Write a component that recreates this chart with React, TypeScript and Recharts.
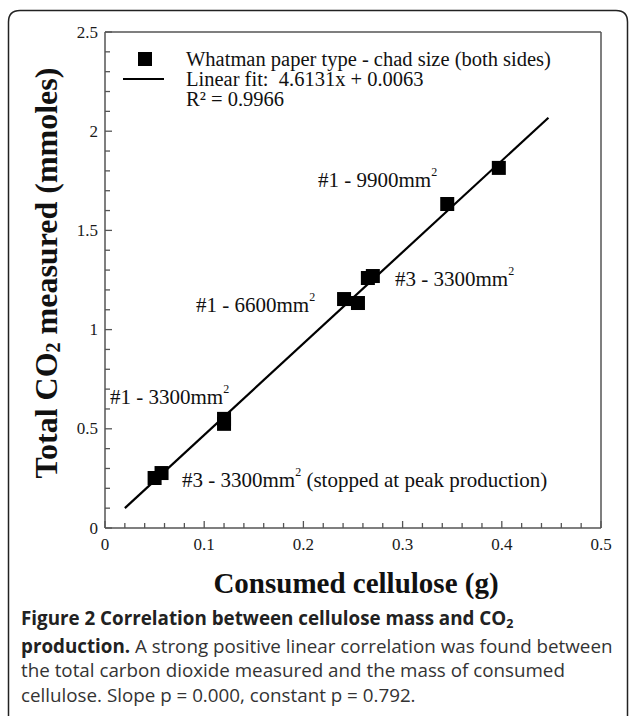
import React from "react";
import { ScatterChart, Scatter, XAxis, YAxis, ReferenceLine } from "recharts";

// measured points: consumed cellulose (g) vs total CO2 (mmoles)
const cellulose = [0.05, 0.057, 0.12, 0.12, 0.241, 0.255, 0.265, 0.27, 0.345, 0.397];
const co2 = [0.252, 0.277, 0.55, 0.525, 1.154, 1.134, 1.26, 1.27, 1.633, 1.815];

// linear fit end points
const fitX = [0.02, 0.447];
const fitY = [0.1, 2.068];

const xTicks = [
  0, 0.02, 0.04, 0.06, 0.08, 0.1, 0.12, 0.14, 0.16, 0.18, 0.2, 0.22, 0.24, 0.26,
  0.28, 0.3, 0.32, 0.34, 0.36, 0.38, 0.4, 0.42, 0.44, 0.46, 0.48, 0.5,
];
const yTicks = [
  0, 0.1, 0.2, 0.3, 0.4, 0.5, 0.6, 0.7, 0.8, 0.9, 1, 1.1, 1.2, 1.3, 1.4, 1.5,
  1.6, 1.7, 1.8, 1.9, 2, 2.1, 2.2, 2.3, 2.4, 2.5,
];
const xMajor = [0, 0.1, 0.2, 0.3, 0.4, 0.5];
const yMajor = [0, 0.5, 1, 1.5, 2, 2.5];

const legendLabels = [
  "Whatman paper type - chad size (both sides)",
  "Linear fit:  4.6131x + 0.0063",
  "R\u00b2 = 0.9966",
];

// [prefix, superscript, suffix]
const annotations = [
  ["#1 - 9900mm", "2", ""],
  ["#3 - 3300mm", "2", ""],
  ["#1 - 6600mm", "2", ""],
  ["#1 - 3300mm", "2", ""],
  ["#3 - 3300mm", "2", " (stopped at peak production)"],
];

const points = cellulose.map((x, i) => ({ x, y: co2[i] }));

const SERIF = "'Liberation Serif', 'Times New Roman', serif";
const AXIS = "#555";

function EdgeTick(props: any) {
  const { x, y, payload, side } = props;
  const v = payload.value;
  const horiz = side === "bottom" || side === "top";
  const major = horiz ? xMajor.includes(v) : yMajor.includes(v);
  const len = major ? 7 : 5;
  let x2 = x;
  let y2 = y;
  if (side === "bottom") y2 = y - len;
  if (side === "top") y2 = y + len;
  if (side === "left") x2 = x + len;
  if (side === "right") x2 = x - len;
  return (
    <g>
      <line x1={x} y1={y} x2={x2} y2={y2} stroke={AXIS} strokeWidth={1.3} />
      {major && side === "bottom" && (
        <text x={x} y={y + 16} textAnchor="middle" dominantBaseline="central"
          fontFamily={SERIF} fontSize={17} fill="#1a1a1a">{v}</text>
      )}
      {major && side === "left" && (
        <text x={x - 7} y={y} textAnchor="end" dominantBaseline="central"
          fontFamily={SERIF} fontSize={17} fill="#1a1a1a">{v}</text>
      )}
    </g>
  );
}

const Square = (p: any) => (
  <rect x={p.cx - 7} y={p.cy - 7} width={14} height={14} fill="#000" />
);

export default function App() {
  const annPos = [
    [318, 180],
    [395, 279],
    [196, 305],
    [110, 397],
    [182, 480],
  ];
  return (
    <div style={{ position: "absolute", left: 0, top: 0, width: 629, height: 716, background: "#fff" }}>
      <ScatterChart width={629} height={716} margin={{ top: 31, right: 27, bottom: 187, left: 104 }}>
        <XAxis type="number" dataKey="x" domain={[0, 0.5]} ticks={xTicks} interval={0}
          height={1} tickSize={0} tickMargin={0} axisLine={{ stroke: AXIS, strokeWidth: 1.5 }}
          tickLine={false} tick={(p: any) => <EdgeTick {...p} side="bottom" />} />
        <XAxis xAxisId="top" orientation="top" type="number" domain={[0, 0.5]} ticks={xTicks}
          interval={0} height={1} tickSize={0} tickMargin={0}
          axisLine={{ stroke: AXIS, strokeWidth: 1.5 }} tickLine={false}
          tick={(p: any) => <EdgeTick {...p} side="top" />} />
        <YAxis type="number" dataKey="y" domain={[0, 2.5]} ticks={yTicks} interval={0}
          width={1} tickSize={0} tickMargin={0} axisLine={{ stroke: AXIS, strokeWidth: 1.5 }}
          tickLine={false} tick={(p: any) => <EdgeTick {...p} side="left" />} />
        <YAxis yAxisId="right" orientation="right" type="number" domain={[0, 2.5]} ticks={yTicks}
          interval={0} width={1} tickSize={0} tickMargin={0}
          axisLine={{ stroke: AXIS, strokeWidth: 1.5 }} tickLine={false}
          tick={(p: any) => <EdgeTick {...p} side="right" />} />
        <ReferenceLine
          segment={[{ x: fitX[0], y: fitY[0] }, { x: fitX[1], y: fitY[1] }]}
          stroke="#000" strokeWidth={2.2} ifOverflow="visible" />
        <Scatter data={points} shape={Square} isAnimationActive={false} />
      </ScatterChart>

      <svg width={629} height={716} style={{ position: "absolute", left: 0, top: 0, pointerEvents: "none" }}>
        <path d="M 8.5 716 L 8.5 22 Q 8.5 10.5 20 10.5 L 616 10.5 Q 627.5 10.5 627.5 22 L 627.5 716"
          fill="none" stroke="#222" strokeWidth={1.5} />

        {/* legend */}
        <rect x={138} y={52} width={14} height={14} fill="#000" />
        <line x1={123} x2={164} y1={79} y2={79} stroke="#000" strokeWidth={2.2} />
        {legendLabels.map((t, i) => (
          <text key={t} x={186} y={59 + i * 20} dominantBaseline="central" fontFamily={SERIF}
            fontSize={20.5} fill="#111" style={{ whiteSpace: "pre" }}>{t}</text>
        ))}

        {/* point annotations */}
        {annotations.map((a, i) => (
          <text key={i} x={annPos[i][0]} y={annPos[i][1]} dominantBaseline="central"
            fontFamily={SERIF} fontSize={21} fill="#111">
            {a[0]}
            <tspan fontSize={12} dy={-8}>{a[1]}</tspan>
            <tspan dy={8}>{a[2]}</tspan>
          </text>
        ))}

        {/* axis titles */}
        <text x={356} y={583} textAnchor="middle" dominantBaseline="central" fontFamily={SERIF}
          fontWeight="bold" fontSize={29} fill="#111">Consumed cellulose (g)</text>
        <text x={46} y={273} textAnchor="middle" dominantBaseline="central" fontFamily={SERIF}
          fontWeight="bold" fontSize={32} fill="#111" transform="rotate(-90 46 273)">
          Total CO<tspan fontSize={20} dy={7}>2</tspan><tspan dy={-7}> measured (mmoles)</tspan>
        </text>
      </svg>

      <div style={{ position: "absolute", left: 21, top: 606, width: 606, fontFamily: "'Open Sans', sans-serif",
        fontSize: 18.8, lineHeight: "24.5px", color: "#333", whiteSpace: "nowrap" }}>
        <div><b style={{ color: "#222" }}>Figure 2 Correlation between cellulose mass and CO<span style={{ fontSize: 12.5, position: "relative", top: 3 }}>2</span></b></div>
        <div><b style={{ color: "#222" }}>production.</b> A strong positive linear correlation was found between</div>
        <div>the total carbon dioxide measured and the mass of consumed</div>
        <div>cellulose. Slope p = 0.000, constant p = 0.792.</div>
      </div>
    </div>
  );
}
